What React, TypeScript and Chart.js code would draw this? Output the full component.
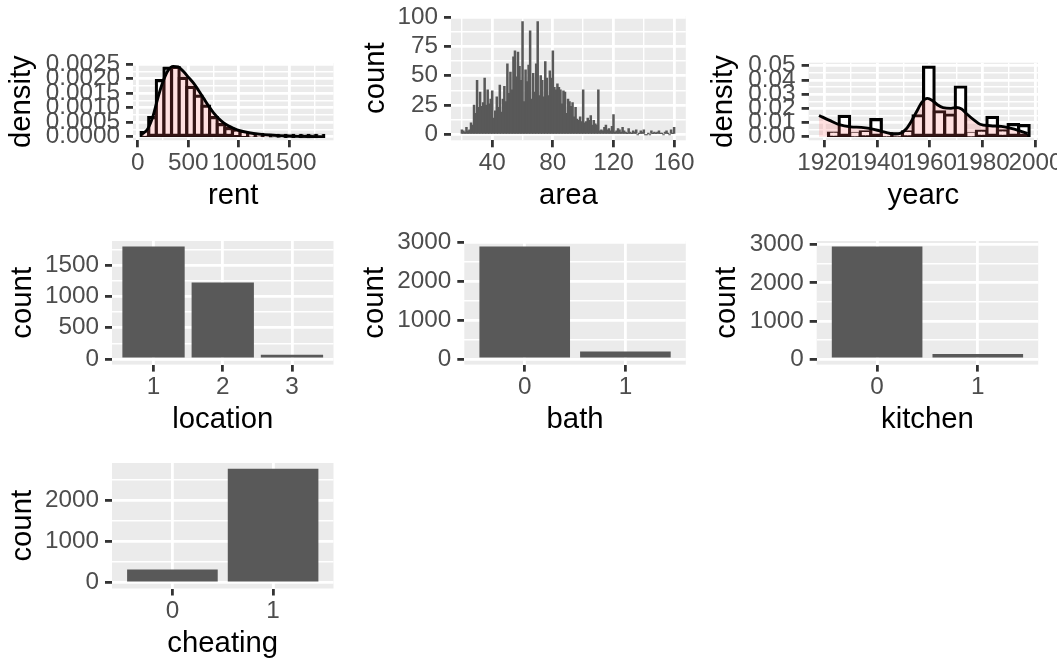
import React, { useEffect, useRef } from 'react';
import { Chart, registerables } from 'chart.js';

Chart.register(...registerables);

// ---------------- data ----------------
// rent: histogram (density scale) + kernel density
const rentBinCenters = [70.65, 145.95, 221.25, 296.55, 371.85, 447.15, 522.45, 597.75, 673.05, 748.35, 823.65, 898.95, 974.25, 1049.55, 1124.85, 1200.15, 1275.45, 1350.75, 1426.05, 1501.35, 1576.65, 1651.95, 1727.25, 1802.55];
const rentBinDensity = [0.00014, 0.00066, 0.00193, 0.00236, 0.00238, 0.00201, 0.0017, 0.0014, 0.00105, 0.00066, 0.00042, 0.00028, 0.00018, 0.00011, 0.00008, 0.00008, 0.00004, 0.00003, 0.00002, 0.00001, 0.00001, 0.000005, 0.000005, 0.00001];
const rentCurveX = [40, 100, 150, 200, 250, 300, 350, 400, 450, 500, 550, 600, 650, 700, 750, 800, 850, 900, 950, 1000, 1100, 1200, 1300, 1400, 1500, 1600, 1700, 1843];
const rentCurveY = [0.00008, 0.00028, 0.0007, 0.00135, 0.0019, 0.00228, 0.00242, 0.0024, 0.00225, 0.00205, 0.00185, 0.0016, 0.00133, 0.00106, 0.00082, 0.00063, 0.00048, 0.00037, 0.00029, 0.00022, 0.00014, 0.00009, 0.00006, 0.00004, 0.000025, 0.000015, 0.00001, 0.000005];
const rentXTicks = [0, 500, 1000, 1500];
const rentXLabels = ['0', '500', '1000', '1500'];
const rentXMinor = [250, 750, 1250, 1750];
const rentYTicks = [0, 0.0005, 0.001, 0.0015, 0.002, 0.0025];
const rentYLabels = ['0.0000', '0.0005', '0.0010', '0.0015', '0.0020', '0.0025'];
const rentYMinor = [0.00025, 0.00075, 0.00125, 0.00175, 0.00225];

// area: count histogram, binwidth 1
const areaBins = [20, 21, 22, 23, 24, 25, 26, 27, 28, 29, 30, 31, 32, 33, 34, 35, 36, 37, 38, 39, 40, 41, 42, 43, 44, 45, 46, 47, 48, 49, 50, 51, 52, 53, 54, 55, 56, 57, 58, 59, 60, 61, 62, 63, 64, 65, 66, 67, 68, 69, 70, 71, 72, 73, 74, 75, 76, 77, 78, 79, 80, 81, 82, 83, 84, 85, 86, 87, 88, 89, 90, 91, 92, 93, 94, 95, 96, 97, 98, 99, 100, 101, 102, 103, 104, 105, 106, 107, 108, 109, 110, 111, 112, 113, 114, 115, 116, 117, 118, 119, 120, 121, 122, 123, 124, 125, 126, 127, 128, 129, 130, 131, 132, 133, 134, 135, 136, 137, 138, 139, 140, 141, 142, 143, 144, 145, 146, 147, 148, 149, 150, 151, 152, 153, 154, 155, 156, 157, 158, 159, 160];
const areaCounts = [
  4, 3, 2, 6, 3, 4, 10, 8, 25, 18,
  46, 23, 36, 24, 27, 48, 25, 38, 26, 30,
  37, 14, 20, 32, 23, 42, 19, 30, 41, 28,
  60, 35, 53, 38, 66, 71, 49, 70, 58, 46,
  96, 28, 55, 45, 59, 88, 30, 52, 36, 60,
  96, 33, 50, 46, 32, 62, 48, 33, 54, 48,
  71, 40, 38, 43, 40, 38, 26, 37, 36, 18,
  30, 28, 24, 27, 15, 23, 13, 12, 15, 11,
  38, 10, 11, 14, 12, 16, 8, 12, 9, 8,
  38, 3, 4, 3, 6, 8, 4, 5, 3, 7,
  17, 2, 3, 5, 4, 2, 6, 3, 2, 1,
  5, 2, 1, 3, 2, 4, 0, 1, 3, 2,
  4, 0, 0, 1, 0, 3, 1, 2, 1, 2,
  3, 1, 1, 0, 2, 3, 1, 0, 4, 1,
  6];
const areaXTicks = [40, 80, 120, 160];
const areaXLabels = ['40', '80', '120', '160'];
const areaXMinor = [20, 60, 100, 140];
const areaYTicks = [0, 25, 50, 75, 100];
const areaYLabels = ['0', '25', '50', '75', '100'];
const areaYMinor = [12.5, 37.5, 62.5, 87.5];

// yearc: histogram (density scale) + kernel density
const yearcBinCenters = [1923.6, 1927.6, 1931.6, 1935.6, 1939.6, 1943.6, 1947.6, 1951.6, 1955.6, 1959.6, 1963.6, 1967.6, 1971.6, 1975.6, 1979.6, 1983.6, 1987.6, 1991.6, 1995.6];
const yearcBinDensity = [0.0026, 0.0143, 0.002, 0.0035, 0.012, 0.002, 0.002, 0.0035, 0.0148, 0.049, 0.0176, 0.0153, 0.035, 0.002, 0.004, 0.0136, 0.0042, 0.0085, 0.0078];
const yearcCurveX = [1918, 1922, 1926, 1930, 1934, 1937, 1941, 1945, 1947, 1949, 1951, 1953, 1955, 1957, 1959, 1961, 1963, 1965, 1968, 1970, 1972, 1974, 1977, 1979, 1983, 1987, 1990, 1994, 1997];
const yearcCurveY = [0.015, 0.0115, 0.0083, 0.007, 0.0066, 0.0059, 0.0042, 0.0023, 0.0019, 0.0026, 0.0055, 0.011, 0.0178, 0.0244, 0.027, 0.0254, 0.0223, 0.0205, 0.02, 0.0206, 0.0195, 0.016, 0.0113, 0.0088, 0.0078, 0.0073, 0.0062, 0.0042, 0.0023];
const yearcXTicks = [1920, 1940, 1960, 1980, 2000];
const yearcXLabels = ['1920', '1940', '1960', '1980', '2000'];
const yearcXMinor = [1930, 1950, 1970, 1990];
const yearcYTicks = [0, 0.01, 0.02, 0.03, 0.04, 0.05];
const yearcYLabels = ['0.00', '0.01', '0.02', '0.03', '0.04', '0.05'];
const yearcYMinor = [0.005, 0.015, 0.025, 0.035, 0.045];

// categorical bar counts
const locationCategories = ['1', '2', '3'];
const locationCounts = [1794, 1221, 67];
const locationYTicks = [0, 500, 1000, 1500];
const locationYLabels = ['0', '500', '1000', '1500'];
const locationYMinor = [250, 750, 1250, 1750];

const bathCategories = ['0', '1'];
const bathCounts = [2891, 191];
const kitchenCategories = ['0', '1'];
const kitchenCounts = [2951, 131];
const countYTicks3000 = [0, 1000, 2000, 3000];
const countYLabels3000 = ['0', '1000', '2000', '3000'];
const countYMinor3000 = [500, 1500, 2500];

const cheatingCategories = ['0', '1'];
const cheatingCounts = [321, 2761];
const cheatingYTicks = [0, 1000, 2000];
const cheatingYLabels = ['0', '1000', '2000'];
const cheatingYMinor = [500, 1500, 2500];

// ---------------- styling ----------------
const CANVAS_W = 1057;
const CANVAS_H = 660;
const FONT_FAMILY = '"Liberation Sans", Arial, Helvetica, sans-serif';
const TICK_FONT_SIZE = 24.3;
const TITLE_FONT_SIZE = 29.3;
const PANEL_BG = '#EBEBEB';
const TICK_MARK_COLOR = '#333333';
const TICK_TEXT_COLOR = '#4D4D4D';
const BAR_GREY = '#595959';
const DENSITY_FILL = 'rgba(255,102,102,0.2)';
const MAJOR_LW = 2.8;
const MINOR_LW = 1.4;
const TICK_LEN = 7;
const X_TITLE_OFFSET = 55.5; // from panel bottom to x-title middle
const HIST_BORDER = 3.2;

const panelBackground = {
  id: 'panelBackground',
  beforeDraw(chart: any) {
    const { ctx, chartArea } = chart;
    ctx.save();
    ctx.fillStyle = PANEL_BG;
    ctx.fillRect(chartArea.left, chartArea.top, chartArea.right - chartArea.left, chartArea.bottom - chartArea.top);
    ctx.restore();
  },
};

function axis(kind: 'x' | 'y', min: number, max: number, majors: number[], labels: string[], minors: number[], title: string, fitSize: number) {
  return {
    type: 'linear',
    position: kind === 'x' ? 'bottom' : 'left',
    min,
    max,
    bounds: 'data',
    offset: false,
    grid: {
      offset: false,
      color: '#FFFFFF',
      lineWidth: (ctx: any) => (ctx.tick && ctx.tick.minor ? MINOR_LW : MAJOR_LW),
      drawTicks: true,
      tickLength: TICK_LEN,
      tickWidth: MAJOR_LW,
      tickColor: (ctx: any) => (ctx.tick && ctx.tick.minor ? 'rgba(0,0,0,0)' : TICK_MARK_COLOR),
    },
    border: { display: false },
    ticks: {
      autoSkip: false,
      maxRotation: 0,
      minRotation: 0,
      padding: kind === 'x' ? 3.5 : 6,
      color: TICK_TEXT_COLOR,
      font: { family: FONT_FAMILY, size: TICK_FONT_SIZE, lineHeight: 1 },
      callback: (_v: any, i: number, ticks: any[]) => (ticks[i].minor ? '' : ticks[i].text),
    },
    afterBuildTicks: (scale: any) => {
      const t = majors.map((v, i) => ({ value: v, text: labels[i] }))
        .concat(minors.map((v) => ({ value: v, minor: true } as any)));
      t.sort((a: any, b: any) => a.value - b.value);
      scale.ticks = t;
    },
    afterFit: (scale: any) => {
      if (kind === 'x') scale.height = fitSize; else scale.width = fitSize;
      scale.paddingLeft = 0;
      scale.paddingRight = 0;
      scale.paddingTop = 0;
      scale.paddingBottom = 0;
    },
    title: {
      display: true,
      text: title,
      color: '#000000',
      padding: 0,
      font: { family: FONT_FAMILY, size: TITLE_FONT_SIZE, lineHeight: 1 },
    },
  };
}

interface Box { L: number; R: number; T: number; B: number; yTitle: number }

function buildConfig(box: Box, xAxis: any[], yAxis: any[], datasets: any[]) {
  const yW = box.L - (box.yTitle - TITLE_FONT_SIZE / 2);
  const xH = X_TITLE_OFFSET + TITLE_FONT_SIZE / 2;
  return {
    type: 'bar',
    data: { datasets },
    options: {
      responsive: false,
      animation: false,
      events: [],
      layout: {
        padding: {
          left: box.yTitle - TITLE_FONT_SIZE / 2,
          top: box.T,
          right: CANVAS_W - box.R,
          bottom: CANVAS_H - box.B - xH,
        },
      },
      plugins: { legend: { display: false }, tooltip: { enabled: false }, title: { display: false } },
      scales: {
        x: (axis as any)('x', ...xAxis, xH),
        y: (axis as any)('y', ...yAxis, yW),
      },
    },
    plugins: [panelBackground],
  };
}

function histDatasets(centers: number[], dens: number[], cx: number[], cy: number[]) {
  return [
    {
      type: 'bar',
      data: centers.map((c, i) => ({ x: c, y: dens[i] })),
      backgroundColor: '#FFFFFF',
      borderColor: '#000000',
      borderWidth: HIST_BORDER,
      borderSkipped: false,
      inflateAmount: HIST_BORDER / 2,
      barPercentage: 1,
      categoryPercentage: 1,
      order: 2,
    },
    {
      type: 'line',
      data: cx.map((x, i) => ({ x, y: cy[i] })),
      borderColor: '#000000',
      borderWidth: 2.9,
      pointRadius: 0,
      fill: 'origin',
      backgroundColor: DENSITY_FILL,
      tension: 0.4,
      cubicInterpolationMode: 'monotone',
      order: 1,
    },
  ];
}

function catDatasets(cats: string[], counts: number[]) {
  return [
    {
      type: 'bar',
      data: cats.map((_c, i) => ({ x: i, y: counts[i] })),
      backgroundColor: BAR_GREY,
      borderWidth: 0,
      barPercentage: 0.9,
      categoryPercentage: 1,
    },
  ];
}

function catXAxis(cats: string[], title: string) {
  return [-0.6, cats.length - 0.4, cats.map((_c, i) => i), cats, [], title];
}

function rangeFor(maxVal: number) {
  return [-0.05 * maxVal, 1.05 * maxVal];
}

const configs: any[] = [
  buildConfig(
    { L: 133, R: 333.5, T: 63, B: 140.3, yTitle: 22 },
    [-47, 1936, rentXTicks, rentXLabels, rentXMinor, 'rent'],
    [-0.000121, 0.002535, rentYTicks, rentYLabels, rentYMinor, 'density'],
    histDatasets(rentBinCenters, rentBinDensity, rentCurveX, rentCurveY),
  ),
  buildConfig(
    { L: 451, R: 685.8, T: 16, B: 140.3, yTitle: 375.5 },
    [12.8, 167.7, areaXTicks, areaXLabels, areaXMinor, 'area'],
    [-4.8, 100.8, areaYTicks, areaYLabels, areaYMinor, 'count'],
    [{
      type: 'bar',
      data: areaBins.map((b, i) => ({ x: b, y: areaCounts[i] })),
      backgroundColor: BAR_GREY,
      borderWidth: 0,
      inflateAmount: 0.5,
      barPercentage: 1,
      categoryPercentage: 1,
    }],
  ),
  buildConfig(
    { L: 808.6, R: 1038, T: 62.7, B: 140.3, yTitle: 724 },
    [1914.05, 2000.95, yearcXTicks, yearcXLabels, yearcXMinor, 'yearc'],
    [-0.00248, 0.0521, yearcYTicks, yearcYLabels, yearcYMinor, 'density'],
    histDatasets(yearcBinCenters, yearcBinDensity, yearcCurveX, yearcCurveY),
  ),
  buildConfig(
    { L: 112, R: 333.5, T: 241, B: 364.6, yTitle: 22.5 },
    catXAxis(locationCategories, 'location'),
    [...rangeFor(Math.max(...locationCounts)), locationYTicks, locationYLabels, locationYMinor, 'count'],
    catDatasets(locationCategories, locationCounts),
  ),
  buildConfig(
    { L: 464.3, R: 685.8, T: 241, B: 364.6, yTitle: 374.8 },
    catXAxis(bathCategories, 'bath'),
    [...rangeFor(Math.max(...bathCounts)), countYTicks3000, countYLabels3000, countYMinor3000, 'count'],
    catDatasets(bathCategories, bathCounts),
  ),
  buildConfig(
    { L: 816.7, R: 1038.2, T: 241, B: 364.6, yTitle: 727.2 },
    catXAxis(kitchenCategories, 'kitchen'),
    [...rangeFor(Math.max(...kitchenCounts)), countYTicks3000, countYLabels3000, countYMinor3000, 'count'],
    catDatasets(kitchenCategories, kitchenCounts),
  ),
  buildConfig(
    { L: 112, R: 333.5, T: 463, B: 588.5, yTitle: 22.5 },
    catXAxis(cheatingCategories, 'cheating'),
    [...rangeFor(Math.max(...cheatingCounts)), cheatingYTicks, cheatingYLabels, cheatingYMinor, 'count'],
    catDatasets(cheatingCategories, cheatingCounts),
  ),
];

function PanelCanvas({ config }: { config: any }) {
  const ref = useRef<HTMLCanvasElement>(null);
  useEffect(() => {
    if (!ref.current) return;
    const chart = new Chart(ref.current, config);
    return () => chart.destroy();
  }, [config]);
  return (
    <canvas
      ref={ref}
      width={CANVAS_W}
      height={CANVAS_H}
      style={{ position: 'absolute', left: 0, top: 0, width: CANVAS_W, height: CANVAS_H }}
    />
  );
}

export default function App() {
  return (
    <div style={{ position: 'fixed', left: 0, top: 0, width: CANVAS_W, height: CANVAS_H, overflow: 'hidden', background: '#FFFFFF' }}>
      {configs.map((c, i) => (
        <PanelCanvas key={i} config={c} />
      ))}
    </div>
  );
}
